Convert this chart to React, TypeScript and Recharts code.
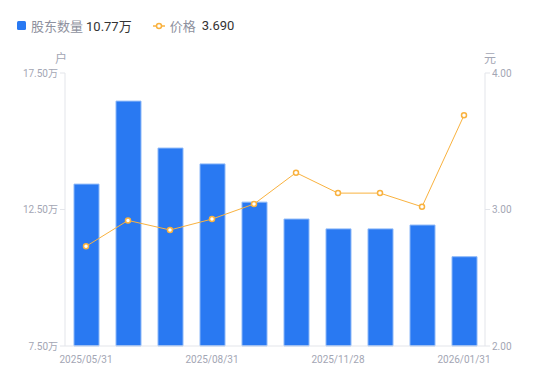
import { ComposedChart, Bar, Line, XAxis, YAxis } from 'recharts';

const dates = [
  '2025/05/31', '2025/06/30', '2025/07/31', '2025/08/31', '2025/09/30',
  '2025/10/31', '2025/11/28', '2025/12/10', '2025/12/31', '2026/01/31',
];
// 股东数量 (万户)
const holders = [13.43, 16.47, 14.75, 14.17, 12.77, 12.15, 11.79, 11.79, 11.93, 10.77];
// 价格 (元)
const prices = [2.73, 2.92, 2.85, 2.93, 3.04, 3.27, 3.12, 3.12, 3.02, 3.69];

const leftTicks = [7.5, 12.5, 17.5];
const rightTicks = [2, 3, 4];

const data = dates.map((d, i) => ({ date: d, holders: holders[i], price: prices[i] }));

const BLUE = '#2979f2';
const ORANGE = '#f9b23f';
const TICK = '#a3a6b4';
const AXIS = '#e3e5ea';
const FONT = "Roboto, 'Noto Sans CJK SC', sans-serif";

export default function App() {
  return (
    <div style={{ position: 'absolute', left: 0, top: 0, width: 550, height: 381, fontFamily: FONT, background: '#fff' }}>
      <div style={{ position: 'absolute', left: 17, top: 16, display: 'flex', alignItems: 'center', fontSize: 13, whiteSpace: 'nowrap' }}>
        <span style={{ width: 9, height: 9, background: BLUE, borderRadius: 1.5, display: 'inline-block', marginRight: 5 }} />
        <span style={{ color: '#8e919e' }}>股东数量</span>
        <span style={{ color: '#333', marginLeft: 3 }}>10.77万</span>
        <svg width={12} height={8} style={{ marginLeft: 21, marginRight: 5 }}>
          <line x1={0} y1={4} x2={12} y2={4} stroke={ORANGE} strokeWidth={1.5} />
          <circle cx={6} cy={4} r={2.5} fill="#fff" stroke={ORANGE} strokeWidth={1.5} />
        </svg>
        <span style={{ color: '#8e919e' }}>价格</span>
        <span style={{ color: '#333', marginLeft: 6 }}>3.690</span>
      </div>
      <div style={{ position: 'absolute', left: 55, top: 49, fontSize: 12, color: TICK }}>户</div>
      <div style={{ position: 'absolute', left: 484, top: 49, fontSize: 12, color: TICK }}>元</div>
      <ComposedChart
        width={550}
        height={381}
        data={data}
        margin={{ top: 73, right: 5, left: 5, bottom: 5 }}
        barSize={25}
      >
        <XAxis
          dataKey="date"
          interval={2}
          tick={{ fill: TICK, fontSize: 10, fontFamily: FONT }}
          tickLine={false}
          axisLine={{ stroke: AXIS }}
          height={30}
          tickMargin={4}
        />
        <YAxis
          yAxisId="left"
          domain={[7.5, 17.5]}
          ticks={leftTicks}
          tickFormatter={(v) => `${v.toFixed(2)}万`}
          tick={{ fill: TICK, fontSize: 10, fontFamily: FONT }}
          tickLine={{ stroke: AXIS }}
          tickSize={5}
          axisLine={{ stroke: AXIS }}
          width={60}
        />
        <YAxis
          yAxisId="right"
          orientation="right"
          domain={[2, 4]}
          ticks={rightTicks}
          tickFormatter={(v) => v.toFixed(2)}
          tick={{ fill: TICK, fontSize: 10, fontFamily: FONT }}
          tickLine={{ stroke: AXIS }}
          tickSize={5}
          axisLine={{ stroke: AXIS }}
          width={60}
        />
        <Bar
          yAxisId="left"
          dataKey="holders"
          fill={BLUE}
          stroke="#8cb8f8"
          strokeWidth={1}
          isAnimationActive={false}
        />
        <Line
          yAxisId="right"
          type="linear"
          dataKey="price"
          stroke={ORANGE}
          strokeWidth={1}
          dot={{ r: 2.5, fill: '#fff', stroke: ORANGE, strokeWidth: 1.5 }}
          activeDot={false}
          isAnimationActive={false}
        />
      </ComposedChart>
    </div>
  );
}
